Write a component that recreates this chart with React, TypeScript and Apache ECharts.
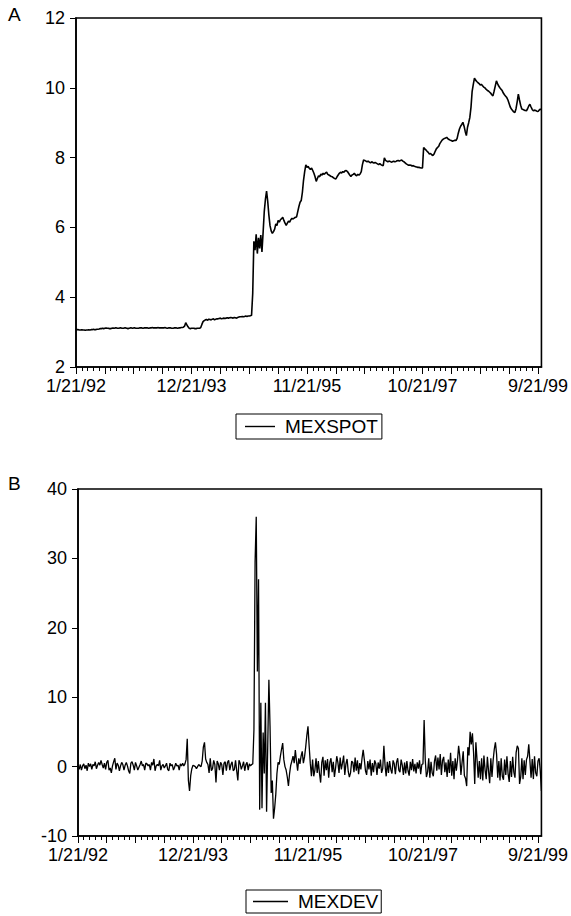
import React, { useEffect, useRef } from "react";
import * as echarts from "echarts";

const START_DATE = Date.UTC(1992, 0, 21);
const N_OBS = 404;

const mexspot: number[] = [
  3.08, 3.07, 3.07, 3.06, 3.06, 3.07, 3.06, 3.06, 3.05, 3.06,
  3.06, 3.07, 3.06, 3.07, 3.07, 3.08, 3.07, 3.07, 3.08, 3.08,
  3.09, 3.10, 3.10, 3.11, 3.10, 3.11, 3.12, 3.11, 3.11, 3.10,
  3.10, 3.11, 3.12, 3.11, 3.12, 3.12, 3.11, 3.11, 3.12, 3.12,
  3.11, 3.11, 3.12, 3.12, 3.11, 3.10, 3.11, 3.12, 3.12, 3.11,
  3.12, 3.12, 3.11, 3.11, 3.11, 3.12, 3.12, 3.12, 3.11, 3.12,
  3.12, 3.12, 3.12, 3.11, 3.12, 3.12, 3.13, 3.12, 3.12, 3.12,
  3.12, 3.13, 3.12, 3.12, 3.12, 3.12, 3.12, 3.13, 3.12, 3.11,
  3.12, 3.12, 3.12, 3.11, 3.11, 3.12, 3.12, 3.12, 3.11, 3.12,
  3.12, 3.13, 3.13, 3.14, 3.17, 3.27, 3.21, 3.15, 3.11, 3.10,
  3.11, 3.11, 3.11, 3.10, 3.10, 3.11, 3.11, 3.11, 3.13, 3.22,
  3.30, 3.33, 3.35, 3.36, 3.34, 3.37, 3.36, 3.35, 3.37, 3.38,
  3.35, 3.37, 3.38, 3.38, 3.39, 3.40, 3.38, 3.39, 3.40, 3.39,
  3.40, 3.41, 3.40, 3.41, 3.42, 3.41, 3.40, 3.42, 3.41, 3.40,
  3.42, 3.43, 3.44, 3.44, 3.45, 3.44, 3.45, 3.46, 3.45, 3.46,
  3.46, 3.47, 3.48, 4.10, 5.60, 5.35, 5.80, 5.25, 5.70, 5.40,
  5.78, 5.30, 5.85, 6.45, 6.80, 7.04, 6.75, 6.35, 6.05, 5.90,
  5.83, 5.88, 5.95, 6.10, 6.05, 6.20, 6.15, 6.22, 6.25, 6.29,
  6.20, 6.12, 6.06, 6.12, 6.18, 6.15, 6.22, 6.26, 6.24, 6.27,
  6.29, 6.30, 6.45, 6.60, 6.72, 6.77, 7.00, 7.35, 7.60, 7.79,
  7.72, 7.75, 7.69, 7.66, 7.70, 7.63, 7.55, 7.45, 7.32, 7.40,
  7.48, 7.45, 7.53, 7.50, 7.55, 7.52, 7.56, 7.58, 7.52, 7.50,
  7.48, 7.46, 7.45, 7.42, 7.40, 7.39, 7.45, 7.50, 7.55, 7.58,
  7.56, 7.60, 7.58, 7.62, 7.63, 7.60, 7.55, 7.50, 7.46, 7.50,
  7.52, 7.55, 7.50, 7.48, 7.52, 7.50, 7.53, 7.60, 7.80, 7.93,
  7.92, 7.90, 7.88, 7.90, 7.87, 7.85, 7.88, 7.86, 7.84, 7.86,
  7.84, 7.82, 7.80, 7.83, 7.80, 7.78, 7.77, 7.99, 7.92, 7.90,
  7.88, 7.90, 7.89, 7.87, 7.88, 7.90, 7.88, 7.89, 7.91, 7.92,
  7.90, 7.92, 7.93, 7.90, 7.88, 7.85, 7.82, 7.80, 7.78, 7.79,
  7.78, 7.76, 7.77, 7.75, 7.74, 7.73, 7.72, 7.72, 7.71, 7.70,
  7.70, 8.29, 8.25, 8.22, 8.18, 8.15, 8.10, 8.12, 8.08, 8.06,
  8.10, 8.18, 8.25, 8.29, 8.32, 8.40, 8.45, 8.50, 8.53, 8.55,
  8.56, 8.58, 8.54, 8.52, 8.50, 8.49, 8.47, 8.48, 8.50, 8.49,
  8.55, 8.70, 8.82, 8.90, 8.95, 9.01, 8.90, 8.75, 8.63, 8.87,
  9.00, 9.15, 9.44, 9.90, 10.10, 10.28, 10.22, 10.18, 10.15, 10.12,
  10.08, 10.10, 10.06, 10.02, 10.00, 9.96, 9.93, 9.91, 9.88, 9.85,
  9.80, 9.77, 9.90, 10.05, 10.20, 10.12, 10.05, 10.00, 9.96, 9.92,
  9.85, 9.80, 9.76, 9.72, 9.65, 9.55, 9.45, 9.39, 9.35, 9.31,
  9.29, 9.40, 9.60, 9.82, 9.65, 9.50, 9.39, 9.38, 9.36, 9.35,
  9.34, 9.40, 9.48, 9.53, 9.45, 9.38, 9.34, 9.36, 9.35, 9.33,
  9.32, 9.36, 9.39, 9.37,
];

const mexdev: number[] = [
  0.2, -0.4, 0.3, -0.5, 0.1, 0.4, -0.3, 0.2, -0.6, 0.5,
  0.0, 0.4, -0.4, 0.3, 0.1, 0.7, -0.3, 0.2, 0.6, 0.2,
  0.9, 0.3, -0.2, 0.5, -0.4, 0.6, 0.9, -0.5, -0.2, -0.9,
  0.1, 0.7, 1.2, -0.4, 0.5, 0.2, -0.6, 0.1, 0.6, 0.3,
  -0.5, 0.2, 0.6, 0.1, -0.6, -1.0, 0.5, 0.7, 0.2, -0.5,
  0.6, 0.1, -0.5, -0.1, 0.3, 0.8, 0.1, 0.3, -0.5, 0.5,
  0.4, 0.1, 0.3, -0.5, 0.6, 0.2, 1.1, -0.6, 0.1, 0.3,
  0.1, 0.9, -0.5, 0.1, 0.3, -0.2, 0.1, 0.5, -0.4, -0.6,
  0.5, 0.1, 0.3, -0.5, -0.1, 0.5, 0.1, 0.2, -0.5, 0.4,
  0.1, 0.5, 0.1, 0.4, 1.0, 4.0, -2.0, -3.5, -1.3, -0.3,
  0.2, 0.1, 0.0, -0.3, 0.0, 0.3, 0.1, 0.0, 0.8, 2.8,
  3.5, 1.1, 0.6, 0.3, -0.9, 1.2, -0.6, -0.3, 0.9, 0.3,
  -2.3, 0.8, 0.4, -0.5, 0.6, 0.3, -1.2, 0.5, 0.7, -0.6,
  0.6, 0.9, -0.5, 0.3, 0.7, -0.6, -0.4, 0.9, -0.6, -2.0,
  0.9, 0.5, -0.4, 0.1, 0.7, -0.6, 0.3, 0.6, -0.5, 0.4,
  0.1, 0.3, 0.4, 5.3, 29.5, 36.0, 13.7, 27.0, -6.2, 9.2,
  -6.0, 4.9, -1.0, 9.2, -6.5, 3.0, 12.5, 5.8, -3.8, -2.0,
  -7.5, -6.0, -4.0, -1.0, 0.6, 0.3, 1.5, 2.5, 3.4, 1.0,
  0.0, -0.5, -1.5, -2.8, -1.0, 0.2, 0.8, 1.5, 0.5, 2.4,
  0.8, -0.6, 1.2, 0.4, 1.5, 2.2, 0.5, 1.4, 2.8, 4.5,
  5.8, 3.0, 0.5, -1.4, 1.0, -1.4, -0.5, 1.2, -0.9, 0.8,
  -1.0, -2.3, 0.6, 1.4, -1.3, 0.9, -0.5, 1.1, -1.6, 0.6,
  1.2, -0.8, 0.7, -1.5, -0.2, 1.5, 0.6, -0.9, 1.3, -0.4,
  0.5, 1.6, -1.2, 0.4, 1.1, -0.7, -1.5, -0.9, 0.8, 0.6,
  -0.8, 1.3, -0.6, 0.9, -1.1, 0.5, -0.4, 1.2, 2.4, 1.0,
  -0.6, -1.2, 0.8, -0.4, 1.0, -1.3, 0.5, -0.8, 0.9, 0.4,
  -1.2, 0.6, -0.3, 1.0, -0.9, -0.3, 3.0, 0.2, -1.4, 0.7,
  -0.9, 0.8, -0.4, -1.0, 0.9, 0.4, -1.1, 0.6, 1.2, -0.5,
  -0.8, 1.0, 0.2, -1.2, 0.6, -1.0, 0.8, -0.6, -1.3, 0.7,
  -0.5, 1.1, -0.7, 0.4, -1.0, 0.6, -0.3, 0.9, -1.1, 0.3,
  0.4, 6.7, 0.9, -1.5, -0.8, 1.2, -1.6, 0.7, -0.9, -1.4,
  0.8, 1.6, -0.6, 1.3, -0.4, 1.8, -1.2, 0.9, 1.4, -0.8,
  0.6, -1.5, 1.0, -0.9, 2.0, -1.3, 0.8, -1.8, 1.2, -0.6,
  0.9, 3.0, 1.5, -1.2, 0.6, 2.2, -1.3, -1.7, -2.8, 2.8,
  1.6, 5.0, 3.2, 4.8, 2.0, -2.5, 3.5, 1.0, -1.6, 0.8,
  -1.8, 1.2, -2.0, 1.6, -0.5, -1.8, 1.4, -0.6, -2.4, 1.2,
  -1.5, 0.9, 2.5, 3.5, 1.8, -1.6, 0.8, -2.0, 1.2, -1.4,
  -1.9, 1.0, -1.2, 1.5, -1.0, -2.2, 0.8, -1.5, 1.4, -0.8,
  -1.6, 2.0, 3.0, 2.6, -2.5, -1.5, 1.2, -1.8, 0.9, -1.2,
  1.0, 1.5, 3.2, 0.8, -1.6, 1.1, -1.8, 1.5, -0.9, -1.4,
  0.8, 1.2, -0.6, -3.5,
];

const spotTicks = { min: 2, max: 12, interval: 2 };
const devTicks = { min: -10, max: 40, interval: 10 };
const seriesNames = ["MEXSPOT", "MEXDEV"];
const panelLabels = ["A", "B"];

function weeklyDates(): string[] {
  const out: string[] = [];
  for (let i = 0; i < N_OBS; i++) {
    const d = new Date(START_DATE + i * 7 * 86400000);
    const yy = String(d.getUTCFullYear() % 100).padStart(2, "0");
    out.push(`${d.getUTCMonth() + 1}/${d.getUTCDate()}/${yy}`);
  }
  return out;
}

const FONT = "'Liberation Sans', Arial, Helvetica, sans-serif";

export default function App() {
  const ref = useRef<HTMLDivElement>(null);
  useEffect(() => {
    document.body.style.margin = "0";
    if (!ref.current) return;
    const chart = echarts.init(ref.current, undefined, { renderer: "svg" });
    const dates = weeklyDates();

    const mainX = (gridIndex: number) => ({
      type: "category" as const,
      gridIndex,
      data: dates,
      boundaryGap: false,
      position: "bottom" as const,
      axisLine: { show: true, onZero: false, lineStyle: { color: "#000", width: 1.6 } },
      axisTick: { show: true, interval: 4, length: 4, lineStyle: { color: "#000", width: 1 } },
      axisLabel: {
        show: true,
        interval: 99,
        margin: 10,
        color: "#000",
        fontSize: 18,
        fontFamily: FONT,
        hideOverlap: false,
      },
      splitLine: { show: false },
    });
    const majorX = (gridIndex: number) => ({
      type: "category" as const,
      gridIndex,
      data: dates,
      boundaryGap: false,
      position: "bottom" as const,
      axisLine: { show: false, onZero: false },
      axisTick: { show: true, interval: 24, length: 7, lineStyle: { color: "#000", width: 1 } },
      axisLabel: { show: false },
      splitLine: { show: false },
    });
    const yAx = (gridIndex: number, t: { min: number; max: number; interval: number }) => ({
      type: "value" as const,
      gridIndex,
      min: t.min,
      max: t.max,
      interval: t.interval,
      axisLine: { show: true, onZero: false, lineStyle: { color: "#000", width: 1.6 } },
      axisTick: { show: true, length: 6, lineStyle: { color: "#000", width: 1 } },
      axisLabel: { color: "#000", fontSize: 18, fontFamily: FONT, margin: 11 },
      splitLine: { show: false },
    });
    const legendCommon = {
      orient: "horizontal" as const,
      borderColor: "#000",
      borderWidth: 1,
      borderRadius: 0,
      icon: "rect",
      itemHeight: 1.4,
      itemGap: 0,
      textStyle: { color: "#000", fontSize: 19, fontFamily: FONT, padding: [0, 0, 0, 5] },
      selectedMode: false,
    };

    chart.setOption({
      animation: false,
      backgroundColor: "#fff",
      grid: [
        { left: 76, top: 18, width: 466, height: 349, show: true, borderColor: "#000", borderWidth: 1.6, containLabel: false },
        { left: 78, top: 489, width: 466, height: 347, show: true, borderColor: "#000", borderWidth: 1.6, containLabel: false },
      ],
      xAxis: [mainX(0), majorX(0), mainX(1), majorX(1)],
      yAxis: [yAx(0, spotTicks), yAx(1, devTicks)],
      legend: [
        { ...legendCommon, data: [seriesNames[0]], left: 236, top: 414, padding: [3, 4, 3, 9], itemWidth: 30 },
        { ...legendCommon, data: [seriesNames[1]], left: 246, top: 890, padding: [2, 3, 2, 7], itemWidth: 35 },
      ],
      graphic: [
        { type: "text", left: 8, top: 5, style: { text: panelLabels[0], fontSize: 19, fontFamily: FONT, fill: "#000" } },
        { type: "text", left: 8, top: 474, style: { text: panelLabels[1], fontSize: 19, fontFamily: FONT, fill: "#000" } },
      ],
      series: [
        {
          name: seriesNames[0],
          type: "line",
          xAxisIndex: 0,
          yAxisIndex: 0,
          data: mexspot,
          symbol: "none",
          lineStyle: { color: "#000", width: 1.6 },
          itemStyle: { color: "#000" },
        },
        {
          name: seriesNames[1],
          type: "line",
          xAxisIndex: 2,
          yAxisIndex: 1,
          data: mexdev,
          symbol: "none",
          lineStyle: { color: "#000", width: 1.3 },
          itemStyle: { color: "#000" },
        },
      ],
    });
    return () => chart.dispose();
  }, []);
  return <div ref={ref} style={{ width: 571, height: 916 }} />;
}
